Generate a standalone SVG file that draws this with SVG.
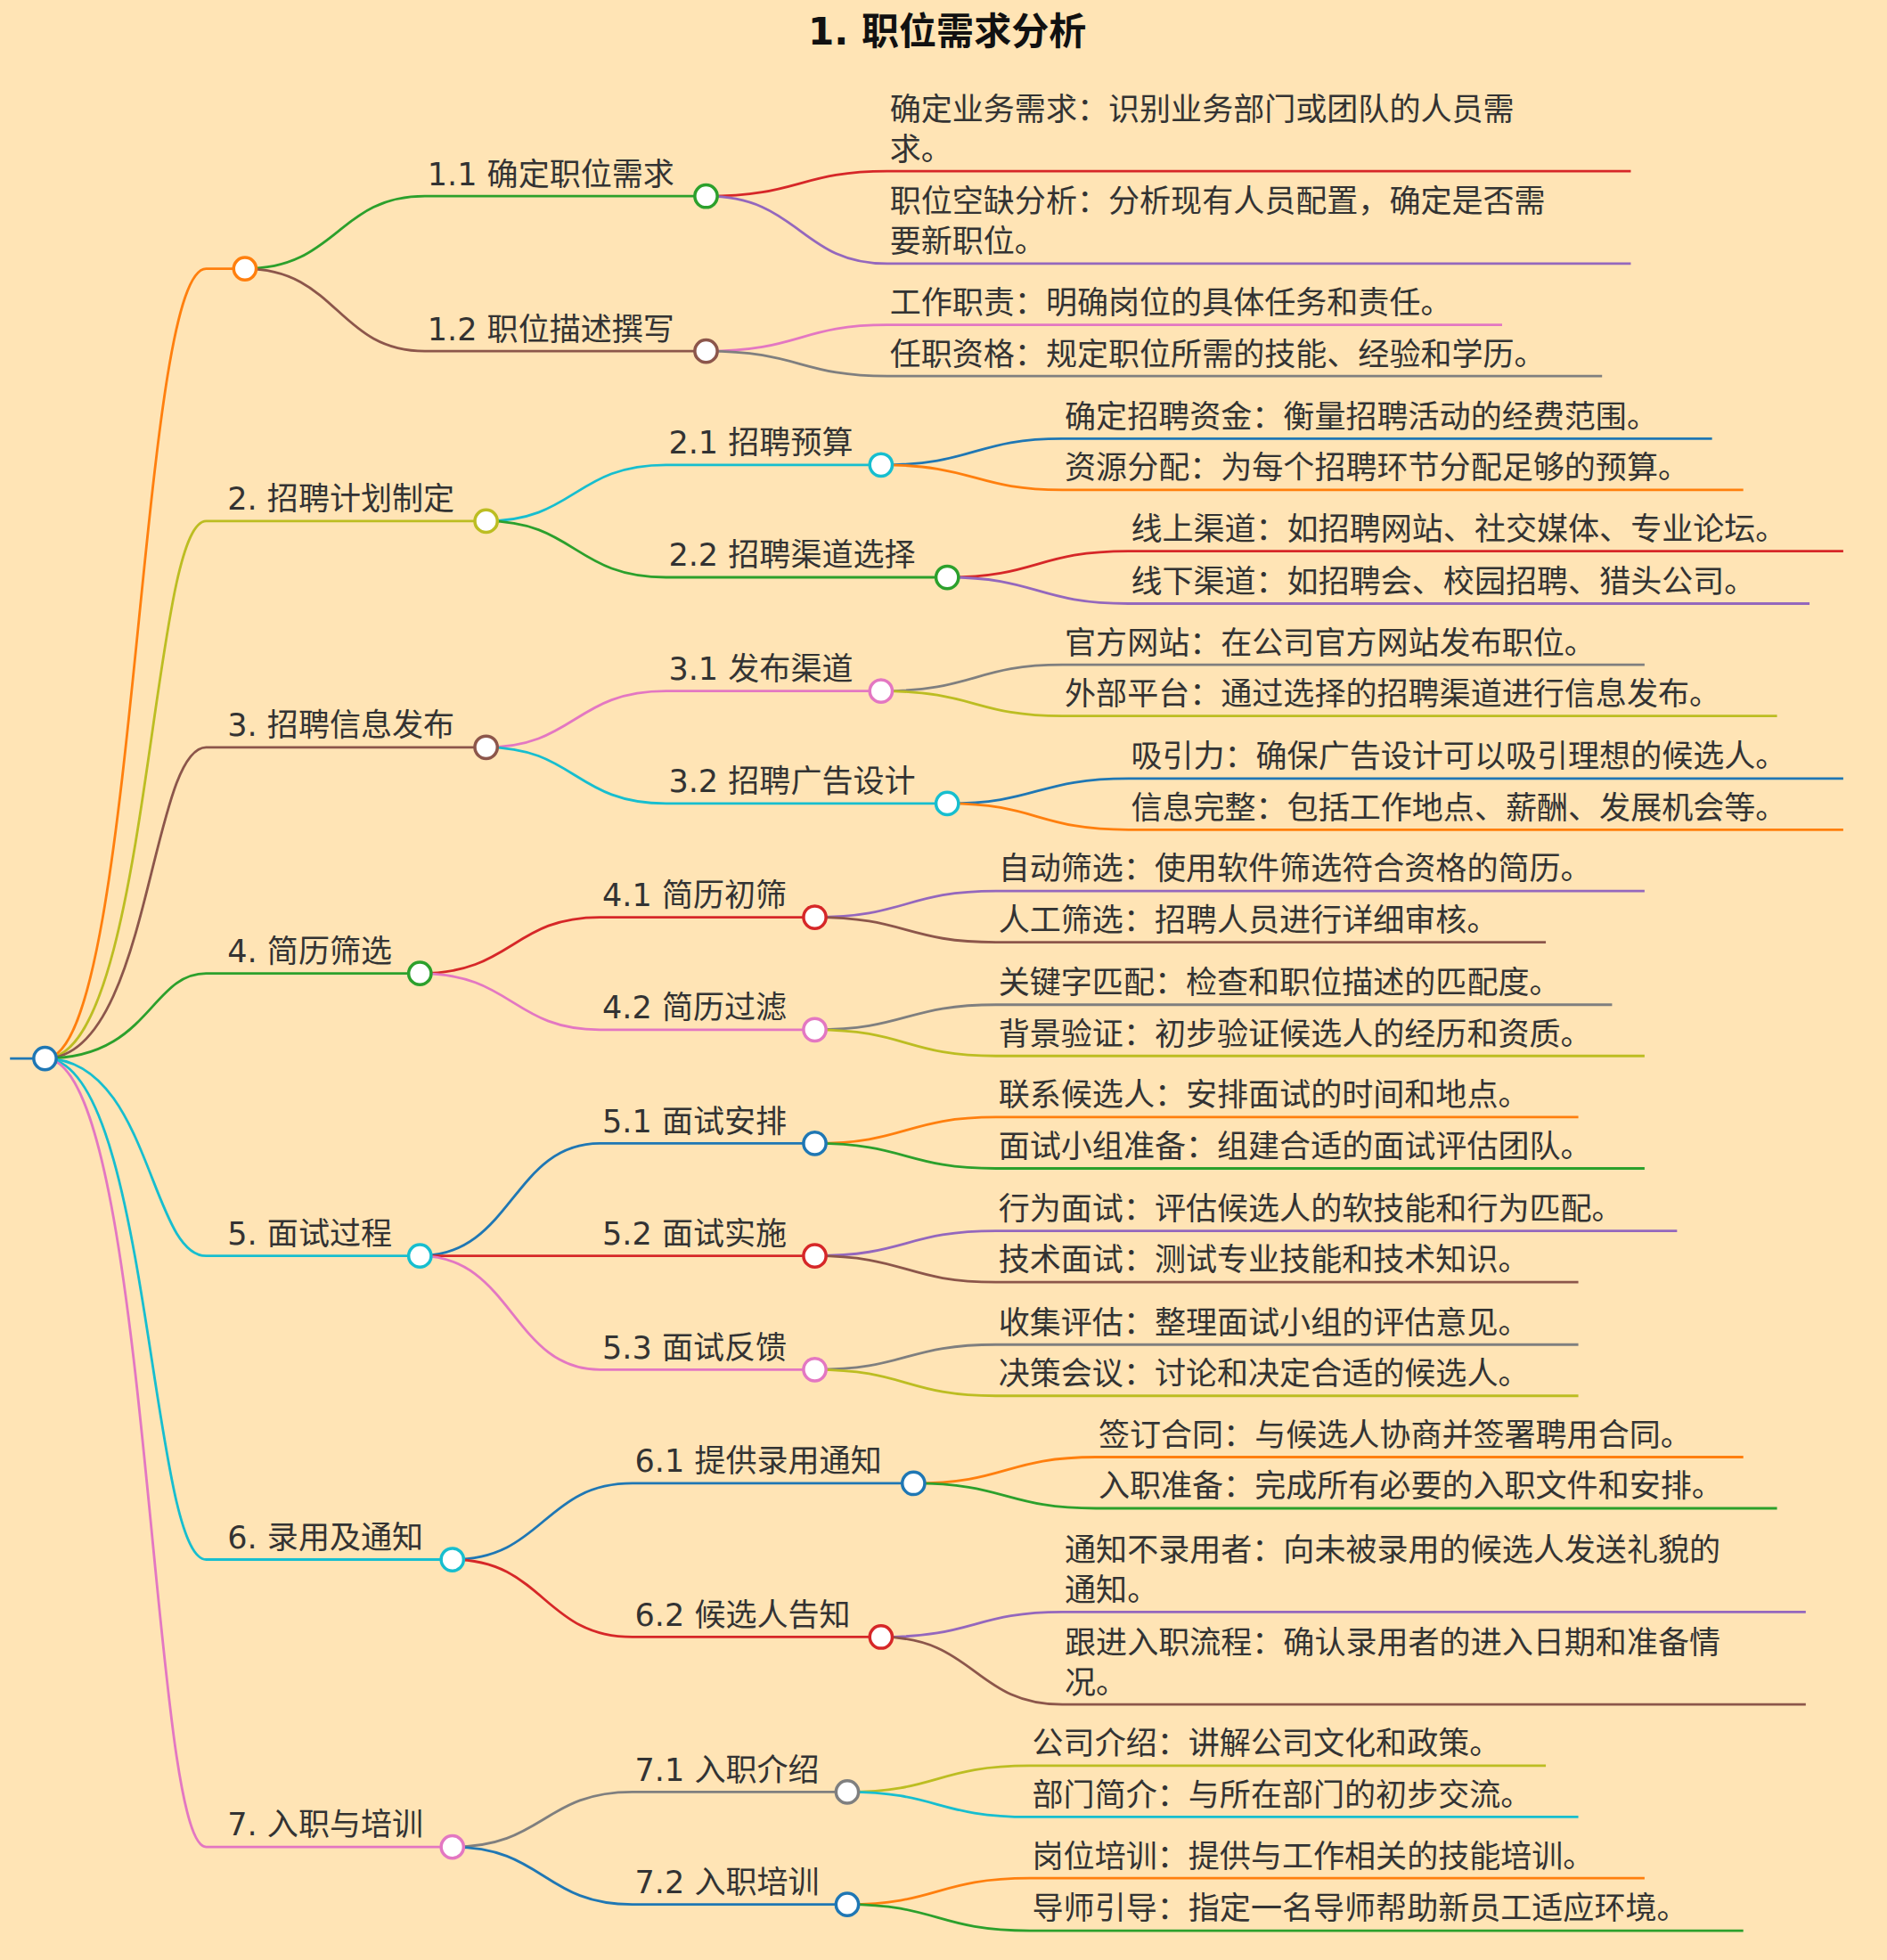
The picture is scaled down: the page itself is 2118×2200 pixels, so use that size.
<svg xmlns="http://www.w3.org/2000/svg" width="2118" height="2200" viewBox="0 0 2118 2200">
<style>
text{font-family:"DejaVu Sans","Noto Sans CJK SC",sans-serif;font-size:25px;fill:#333}
.t{font-weight:bold;font-size:30px;fill:#111}
path,line{fill:none;stroke-width:2}
circle{fill:#fff;stroke-width:2.5}
</style>
<rect width="2118" height="2200" fill="#ffe4b5"/>
<g transform="scale(1.40265)">
<text class="t" x="758" y="36" text-anchor="middle">1. 职位需求分析</text>
<g id="connectors">
<line x1="8" y1="847" x2="36" y2="847" stroke="#1f77b4"/>
<path d="M36 847C110 847 110 215 165 215H196" stroke="#ff7f0e"/>
<path d="M36 847C120 847 120 417 165 417H389" stroke="#bcbd22"/>
<path d="M36 847C120 847 120 598 165 598H389" stroke="#8c564b"/>
<path d="M36 847C120 847 120 779 165 779H336" stroke="#2ca02c"/>
<path d="M36 847C120 847 120 1005 165 1005H336" stroke="#17becf"/>
<path d="M36 847C120 847 120 1248 165 1248H362" stroke="#17becf"/>
<path d="M36 847C120 847 120 1478 165 1478H362" stroke="#e377c2"/>
<path d="M196 215C270 215 270 157 340 157H565" stroke="#2ca02c"/>
<path d="M196 215C270 215 270 281 340 281H565" stroke="#8c564b"/>
<path d="M389 417C460 417 460 372 533 372H705" stroke="#17becf"/>
<path d="M389 417C460 417 460 462 533 462H758" stroke="#2ca02c"/>
<path d="M389 598C460 598 460 553 533 553H705" stroke="#e377c2"/>
<path d="M389 598C460 598 460 643 533 643H758" stroke="#17becf"/>
<path d="M336 779C410 779 410 734 480 734H652" stroke="#d62728"/>
<path d="M336 779C410 779 410 824 480 824H652" stroke="#e377c2"/>
<path d="M336 1005C410 1005 410 915 480 915H652" stroke="#1f77b4"/>
<path d="M336 1005H652" stroke="#d62728"/>
<path d="M336 1005C410 1005 410 1096 480 1096H652" stroke="#e377c2"/>
<path d="M362 1248C435 1248 435 1187 506 1187H731" stroke="#1f77b4"/>
<path d="M362 1248C435 1248 435 1310 506 1310H705" stroke="#d62728"/>
<path d="M362 1478C435 1478 435 1434 506 1434H678" stroke="#7f7f7f"/>
<path d="M362 1478C435 1478 435 1524 506 1524H678" stroke="#1f77b4"/>
<path d="M565 157C640 157 640 137 710 137H1305" stroke="#d62728"/>
<path d="M565 157C640 157 640 211 710 211H1305" stroke="#9467bd"/>
<path d="M565 281C640 281 640 260 710 260H1202" stroke="#e377c2"/>
<path d="M565 281C640 281 640 301 710 301H1282" stroke="#7f7f7f"/>
<path d="M705 372C780 372 780 351 850 351H1370" stroke="#1f77b4"/>
<path d="M705 372C780 372 780 392 850 392H1395" stroke="#ff7f0e"/>
<path d="M758 462C830 462 830 441 903 441H1475" stroke="#d62728"/>
<path d="M758 462C830 462 830 483 903 483H1448" stroke="#9467bd"/>
<path d="M705 553C780 553 780 532 850 532H1316" stroke="#7f7f7f"/>
<path d="M705 553C780 553 780 573 850 573H1422" stroke="#bcbd22"/>
<path d="M758 643C830 643 830 623 903 623H1475" stroke="#1f77b4"/>
<path d="M758 643C830 643 830 664 903 664H1475" stroke="#ff7f0e"/>
<path d="M652 734C725 734 725 713 797 713H1316" stroke="#9467bd"/>
<path d="M652 734C725 734 725 754 797 754H1237" stroke="#8c564b"/>
<path d="M652 824C725 824 725 804 797 804H1290" stroke="#7f7f7f"/>
<path d="M652 824C725 824 725 845 797 845H1316" stroke="#bcbd22"/>
<path d="M652 915C725 915 725 894 797 894H1263" stroke="#ff7f0e"/>
<path d="M652 915C725 915 725 935 797 935H1316" stroke="#2ca02c"/>
<path d="M652 1005C725 1005 725 985 797 985H1342" stroke="#9467bd"/>
<path d="M652 1005C725 1005 725 1026 797 1026H1263" stroke="#8c564b"/>
<path d="M652 1096C725 1096 725 1076 797 1076H1263" stroke="#7f7f7f"/>
<path d="M652 1096C725 1096 725 1117 797 1117H1263" stroke="#bcbd22"/>
<path d="M731 1187C805 1187 805 1166 877 1166H1395" stroke="#ff7f0e"/>
<path d="M731 1187C805 1187 805 1207 877 1207H1422" stroke="#2ca02c"/>
<path d="M705 1310C780 1310 780 1290 850 1290H1445" stroke="#9467bd"/>
<path d="M705 1310C780 1310 780 1364 850 1364H1445" stroke="#8c564b"/>
<path d="M678 1434C750 1434 750 1413 824 1413H1237" stroke="#bcbd22"/>
<path d="M678 1434C750 1434 750 1454 824 1454H1263" stroke="#17becf"/>
<path d="M678 1524C750 1524 750 1503 824 1503H1316" stroke="#ff7f0e"/>
<path d="M678 1524C750 1524 750 1545 824 1545H1395" stroke="#2ca02c"/>
</g>
<g id="root"><circle cx="36" cy="847" r="9" stroke="#1f77b4"/></g>
<g id="n1"><circle cx="196" cy="215" r="9" stroke="#ff7f0e"/></g>
<g id="n2"><text x="182" y="408">2. 招聘计划制定</text><circle cx="389" cy="417" r="9" stroke="#bcbd22"/></g>
<g id="n3"><text x="182" y="589">3. 招聘信息发布</text><circle cx="389" cy="598" r="9" stroke="#8c564b"/></g>
<g id="n4"><text x="182" y="770">4. 简历筛选</text><circle cx="336" cy="779" r="9" stroke="#2ca02c"/></g>
<g id="n5"><text x="182" y="996">5. 面试过程</text><circle cx="336" cy="1005" r="9" stroke="#17becf"/></g>
<g id="n6"><text x="182" y="1239">6. 录用及通知</text><circle cx="362" cy="1248" r="9" stroke="#17becf"/></g>
<g id="n7"><text x="182" y="1469">7. 入职与培训</text><circle cx="362" cy="1478" r="9" stroke="#e377c2"/></g>
<g id="n11"><text x="342" y="148">1.1 确定职位需求</text><circle cx="565" cy="157" r="9" stroke="#2ca02c"/></g>
<g id="n12"><text x="342" y="272">1.2 职位描述撰写</text><circle cx="565" cy="281" r="9" stroke="#8c564b"/></g>
<g id="n21"><text x="535" y="363">2.1 招聘预算</text><circle cx="705" cy="372" r="9" stroke="#17becf"/></g>
<g id="n22"><text x="535" y="453">2.2 招聘渠道选择</text><circle cx="758" cy="462" r="9" stroke="#2ca02c"/></g>
<g id="n31"><text x="535" y="544">3.1 发布渠道</text><circle cx="705" cy="553" r="9" stroke="#e377c2"/></g>
<g id="n32"><text x="535" y="634">3.2 招聘广告设计</text><circle cx="758" cy="643" r="9" stroke="#17becf"/></g>
<g id="n41"><text x="482" y="725">4.1 简历初筛</text><circle cx="652" cy="734" r="9" stroke="#d62728"/></g>
<g id="n42"><text x="482" y="815">4.2 简历过滤</text><circle cx="652" cy="824" r="9" stroke="#e377c2"/></g>
<g id="n51"><text x="482" y="906">5.1 面试安排</text><circle cx="652" cy="915" r="9" stroke="#1f77b4"/></g>
<g id="n52"><text x="482" y="996">5.2 面试实施</text><circle cx="652" cy="1005" r="9" stroke="#d62728"/></g>
<g id="n53"><text x="482" y="1087">5.3 面试反馈</text><circle cx="652" cy="1096" r="9" stroke="#e377c2"/></g>
<g id="n61"><text x="508" y="1178">6.1 提供录用通知</text><circle cx="731" cy="1187" r="9" stroke="#1f77b4"/></g>
<g id="n62"><text x="508" y="1301">6.2 候选人告知</text><circle cx="705" cy="1310" r="9" stroke="#d62728"/></g>
<g id="n71"><text x="508" y="1425">7.1 入职介绍</text><circle cx="678" cy="1434" r="9" stroke="#7f7f7f"/></g>
<g id="n72"><text x="508" y="1515">7.2 入职培训</text><circle cx="678" cy="1524" r="9" stroke="#1f77b4"/></g>
<g id="leaves">
<text x="712" y="96">确定业务需求：识别业务部门或团队的人员需<tspan x="712" dy="32">求。</tspan></text>
<text x="712" y="170">职位空缺分析：分析现有人员配置，确定是否需<tspan x="712" dy="32">要新职位。</tspan></text>
<text x="712" y="251">工作职责：明确岗位的具体任务和责任。</text>
<text x="712" y="292">任职资格：规定职位所需的技能、经验和学历。</text>
<text x="852" y="342">确定招聘资金：衡量招聘活动的经费范围。</text>
<text x="852" y="383">资源分配：为每个招聘环节分配足够的预算。</text>
<text x="905" y="432">线上渠道：如招聘网站、社交媒体、专业论坛。</text>
<text x="905" y="474">线下渠道：如招聘会、校园招聘、猎头公司。</text>
<text x="852" y="523">官方网站：在公司官方网站发布职位。</text>
<text x="852" y="564">外部平台：通过选择的招聘渠道进行信息发布。</text>
<text x="905" y="614">吸引力：确保广告设计可以吸引理想的候选人。</text>
<text x="905" y="655">信息完整：包括工作地点、薪酬、发展机会等。</text>
<text x="799" y="704">自动筛选：使用软件筛选符合资格的简历。</text>
<text x="799" y="745">人工筛选：招聘人员进行详细审核。</text>
<text x="799" y="795">关键字匹配：检查和职位描述的匹配度。</text>
<text x="799" y="836">背景验证：初步验证候选人的经历和资质。</text>
<text x="799" y="885">联系候选人：安排面试的时间和地点。</text>
<text x="799" y="926">面试小组准备：组建合适的面试评估团队。</text>
<text x="799" y="976">行为面试：评估候选人的软技能和行为匹配。</text>
<text x="799" y="1017">技术面试：测试专业技能和技术知识。</text>
<text x="799" y="1067">收集评估：整理面试小组的评估意见。</text>
<text x="799" y="1108">决策会议：讨论和决定合适的候选人。</text>
<text x="879" y="1157">签订合同：与候选人协商并签署聘用合同。</text>
<text x="879" y="1198">入职准备：完成所有必要的入职文件和安排。</text>
<text x="852" y="1249">通知不录用者：向未被录用的候选人发送礼貌的<tspan x="852" dy="32">通知。</tspan></text>
<text x="852" y="1323">跟进入职流程：确认录用者的进入日期和准备情<tspan x="852" dy="32">况。</tspan></text>
<text x="826" y="1404">公司介绍：讲解公司文化和政策。</text>
<text x="826" y="1445">部门简介：与所在部门的初步交流。</text>
<text x="826" y="1494">岗位培训：提供与工作相关的技能培训。</text>
<text x="826" y="1536">导师引导：指定一名导师帮助新员工适应环境。</text>
</g>
</g>
</svg>
